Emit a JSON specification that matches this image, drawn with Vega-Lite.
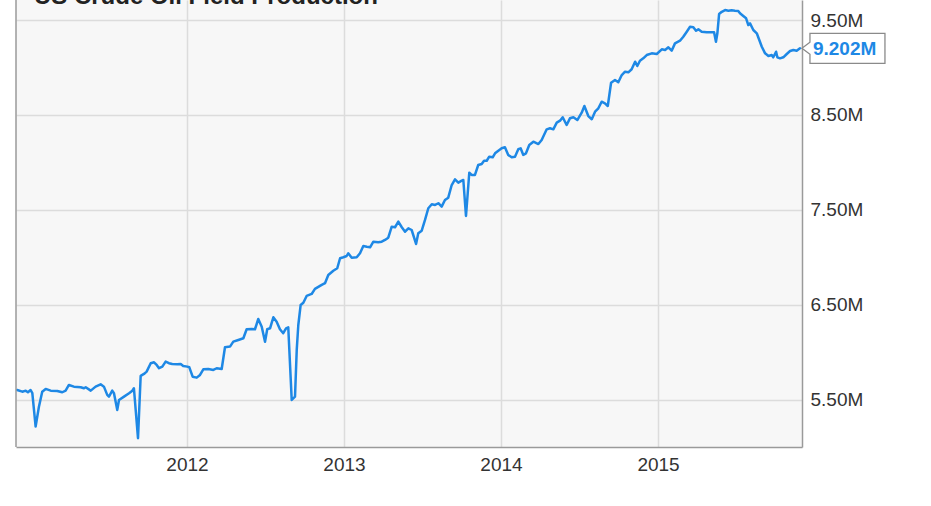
{
  "$schema": "https://vega.github.io/schema/vega-lite/v6.json",
  "autosize": {"type": "none"},
  "width": 786,
  "height": 447,
  "padding": {"left": 16, "top": 0, "right": 129, "bottom": 59},
  "background": "#ffffff",
  "config": {
    "view": {"stroke": null, "fill": "#f7f7f7"},
    "font": "Liberation Sans"
  },
  "datasets": {
    "production": [
      {"year": 2010.919, "value": 5.601}, {"year": 2010.951, "value": 5.583}, {"year": 2010.973, "value": 5.594}, {"year": 2010.987, "value": 5.577},
      {"year": 2011.004, "value": 5.601}, {"year": 2011.015, "value": 5.567}, {"year": 2011.036, "value": 5.215}, {"year": 2011.057, "value": 5.425},
      {"year": 2011.078, "value": 5.583}, {"year": 2011.100, "value": 5.612}, {"year": 2011.132, "value": 5.594}, {"year": 2011.174, "value": 5.591},
      {"year": 2011.206, "value": 5.577}, {"year": 2011.227, "value": 5.594}, {"year": 2011.248, "value": 5.654}, {"year": 2011.280, "value": 5.636},
      {"year": 2011.323, "value": 5.630}, {"year": 2011.344, "value": 5.619}, {"year": 2011.355, "value": 5.630}, {"year": 2011.387, "value": 5.594},
      {"year": 2011.418, "value": 5.636}, {"year": 2011.450, "value": 5.661}, {"year": 2011.471, "value": 5.636}, {"year": 2011.492, "value": 5.549},
      {"year": 2011.503, "value": 5.531}, {"year": 2011.524, "value": 5.594}, {"year": 2011.535, "value": 5.567}, {"year": 2011.556, "value": 5.391},
      {"year": 2011.567, "value": 5.496}, {"year": 2011.599, "value": 5.531}, {"year": 2011.631, "value": 5.567}, {"year": 2011.652, "value": 5.594},
      {"year": 2011.662, "value": 5.619}, {"year": 2011.688, "value": 5.092}, {"year": 2011.705, "value": 5.749}, {"year": 2011.726, "value": 5.770},
      {"year": 2011.743, "value": 5.794}, {"year": 2011.769, "value": 5.883}, {"year": 2011.790, "value": 5.893}, {"year": 2011.807, "value": 5.865},
      {"year": 2011.822, "value": 5.830}, {"year": 2011.843, "value": 5.847}, {"year": 2011.864, "value": 5.900}, {"year": 2011.885, "value": 5.883},
      {"year": 2011.906, "value": 5.875}, {"year": 2011.938, "value": 5.872}, {"year": 2011.960, "value": 5.875}, {"year": 2011.976, "value": 5.854},
      {"year": 2012.002, "value": 5.847}, {"year": 2012.015, "value": 5.840}, {"year": 2012.036, "value": 5.741}, {"year": 2012.062, "value": 5.731},
      {"year": 2012.083, "value": 5.759}, {"year": 2012.104, "value": 5.819}, {"year": 2012.136, "value": 5.822}, {"year": 2012.168, "value": 5.812},
      {"year": 2012.189, "value": 5.830}, {"year": 2012.221, "value": 5.822}, {"year": 2012.242, "value": 6.051}, {"year": 2012.274, "value": 6.058},
      {"year": 2012.295, "value": 6.110}, {"year": 2012.327, "value": 6.128}, {"year": 2012.359, "value": 6.146}, {"year": 2012.380, "value": 6.241},
      {"year": 2012.412, "value": 6.244}, {"year": 2012.433, "value": 6.241}, {"year": 2012.454, "value": 6.349}, {"year": 2012.476, "value": 6.268},
      {"year": 2012.497, "value": 6.110}, {"year": 2012.511, "value": 6.241}, {"year": 2012.529, "value": 6.251}, {"year": 2012.550, "value": 6.367},
      {"year": 2012.571, "value": 6.321}, {"year": 2012.592, "value": 6.241}, {"year": 2012.613, "value": 6.199}, {"year": 2012.631, "value": 6.251},
      {"year": 2012.645, "value": 6.262}, {"year": 2012.667, "value": 5.496}, {"year": 2012.688, "value": 5.531}, {"year": 2012.699, "value": 6.023},
      {"year": 2012.709, "value": 6.286}, {"year": 2012.724, "value": 6.497}, {"year": 2012.741, "value": 6.521}, {"year": 2012.762, "value": 6.592},
      {"year": 2012.794, "value": 6.613}, {"year": 2012.815, "value": 6.666}, {"year": 2012.858, "value": 6.708}, {"year": 2012.879, "value": 6.726},
      {"year": 2012.900, "value": 6.813}, {"year": 2012.932, "value": 6.858}, {"year": 2012.957, "value": 6.884}, {"year": 2012.975, "value": 6.989},
      {"year": 2012.996, "value": 7.000}, {"year": 2013.017, "value": 7.013}, {"year": 2013.027, "value": 7.042}, {"year": 2013.049, "value": 6.995},
      {"year": 2013.081, "value": 7.000}, {"year": 2013.102, "value": 7.042}, {"year": 2013.123, "value": 7.119}, {"year": 2013.145, "value": 7.111},
      {"year": 2013.166, "value": 7.105}, {"year": 2013.187, "value": 7.164}, {"year": 2013.218, "value": 7.158}, {"year": 2013.240, "value": 7.164},
      {"year": 2013.261, "value": 7.182}, {"year": 2013.282, "value": 7.206}, {"year": 2013.304, "value": 7.322}, {"year": 2013.325, "value": 7.316},
      {"year": 2013.346, "value": 7.375}, {"year": 2013.368, "value": 7.316}, {"year": 2013.389, "value": 7.269}, {"year": 2013.410, "value": 7.305},
      {"year": 2013.431, "value": 7.287}, {"year": 2013.459, "value": 7.140}, {"year": 2013.473, "value": 7.252}, {"year": 2013.495, "value": 7.280},
      {"year": 2013.516, "value": 7.393}, {"year": 2013.537, "value": 7.516}, {"year": 2013.559, "value": 7.558}, {"year": 2013.580, "value": 7.551},
      {"year": 2013.601, "value": 7.569}, {"year": 2013.622, "value": 7.533}, {"year": 2013.643, "value": 7.603}, {"year": 2013.664, "value": 7.628},
      {"year": 2013.686, "value": 7.761}, {"year": 2013.707, "value": 7.821}, {"year": 2013.728, "value": 7.786}, {"year": 2013.750, "value": 7.807},
      {"year": 2013.760, "value": 7.814}, {"year": 2013.777, "value": 7.435}, {"year": 2013.788, "value": 7.674}, {"year": 2013.798, "value": 7.891},
      {"year": 2013.813, "value": 7.867}, {"year": 2013.834, "value": 7.867}, {"year": 2013.855, "value": 7.972}, {"year": 2013.877, "value": 7.983},
      {"year": 2013.892, "value": 8.017}, {"year": 2013.909, "value": 8.017}, {"year": 2013.925, "value": 8.060}, {"year": 2013.947, "value": 8.053},
      {"year": 2013.962, "value": 8.095}, {"year": 2013.983, "value": 8.123}, {"year": 2014.004, "value": 8.148}, {"year": 2014.025, "value": 8.159},
      {"year": 2014.046, "value": 8.078}, {"year": 2014.068, "value": 8.053}, {"year": 2014.089, "value": 8.060}, {"year": 2014.110, "value": 8.138},
      {"year": 2014.125, "value": 8.148}, {"year": 2014.142, "value": 8.078}, {"year": 2014.159, "value": 8.095}, {"year": 2014.180, "value": 8.183},
      {"year": 2014.206, "value": 8.218}, {"year": 2014.238, "value": 8.193}, {"year": 2014.259, "value": 8.236}, {"year": 2014.291, "value": 8.348},
      {"year": 2014.312, "value": 8.359}, {"year": 2014.333, "value": 8.348}, {"year": 2014.355, "value": 8.418}, {"year": 2014.376, "value": 8.439},
      {"year": 2014.393, "value": 8.475}, {"year": 2014.418, "value": 8.394}, {"year": 2014.439, "value": 8.464}, {"year": 2014.461, "value": 8.475},
      {"year": 2014.486, "value": 8.446}, {"year": 2014.514, "value": 8.523}, {"year": 2014.531, "value": 8.594}, {"year": 2014.556, "value": 8.488},
      {"year": 2014.578, "value": 8.454}, {"year": 2014.599, "value": 8.534}, {"year": 2014.620, "value": 8.570}, {"year": 2014.641, "value": 8.639},
      {"year": 2014.662, "value": 8.622}, {"year": 2014.680, "value": 8.594}, {"year": 2014.701, "value": 8.839}, {"year": 2014.726, "value": 8.868},
      {"year": 2014.747, "value": 8.844}, {"year": 2014.769, "value": 8.920}, {"year": 2014.790, "value": 8.955}, {"year": 2014.811, "value": 8.949},
      {"year": 2014.832, "value": 8.981}, {"year": 2014.854, "value": 9.061}, {"year": 2014.868, "value": 9.015}, {"year": 2014.885, "value": 9.071},
      {"year": 2014.906, "value": 9.096}, {"year": 2014.928, "value": 9.131}, {"year": 2014.960, "value": 9.149}, {"year": 2014.992, "value": 9.142},
      {"year": 2015.024, "value": 9.191}, {"year": 2015.045, "value": 9.184}, {"year": 2015.066, "value": 9.212}, {"year": 2015.087, "value": 9.177},
      {"year": 2015.108, "value": 9.254}, {"year": 2015.140, "value": 9.282}, {"year": 2015.161, "value": 9.324}, {"year": 2015.183, "value": 9.377},
      {"year": 2015.204, "value": 9.429}, {"year": 2015.225, "value": 9.423}, {"year": 2015.242, "value": 9.387}, {"year": 2015.257, "value": 9.402},
      {"year": 2015.278, "value": 9.377}, {"year": 2015.310, "value": 9.370}, {"year": 2015.342, "value": 9.370}, {"year": 2015.357, "value": 9.370},
      {"year": 2015.369, "value": 9.271}, {"year": 2015.378, "value": 9.360}, {"year": 2015.389, "value": 9.563}, {"year": 2015.406, "value": 9.587},
      {"year": 2015.427, "value": 9.605}, {"year": 2015.448, "value": 9.598}, {"year": 2015.469, "value": 9.602}, {"year": 2015.490, "value": 9.598},
      {"year": 2015.511, "value": 9.595}, {"year": 2015.522, "value": 9.571}, {"year": 2015.543, "value": 9.542}, {"year": 2015.561, "value": 9.518},
      {"year": 2015.575, "value": 9.447}, {"year": 2015.586, "value": 9.465}, {"year": 2015.607, "value": 9.395}, {"year": 2015.629, "value": 9.360},
      {"year": 2015.645, "value": 9.289}, {"year": 2015.661, "value": 9.219}, {"year": 2015.682, "value": 9.149}, {"year": 2015.703, "value": 9.121},
      {"year": 2015.724, "value": 9.131}, {"year": 2015.734, "value": 9.107}, {"year": 2015.752, "value": 9.166}, {"year": 2015.760, "value": 9.107},
      {"year": 2015.777, "value": 9.096}, {"year": 2015.798, "value": 9.107}, {"year": 2015.820, "value": 9.142}, {"year": 2015.841, "value": 9.173},
      {"year": 2015.862, "value": 9.184}, {"year": 2015.883, "value": 9.177}, {"year": 2015.904, "value": 9.202}
    ],
    "latest": [
      {"year": 2015.904, "value": 9.202, "label": "9.202M"}
    ],
    "heading": [
      {"label": "US Crude Oil Field Production"}
    ]
  },
  "layer": [
    {
      "data": {"name": "production"},
      "mark": {"type": "line", "color": "#1e88e5", "strokeWidth": 2.5, "strokeJoin": "round", "strokeCap": "round"},
      "encoding": {
        "x": {
          "field": "year", "type": "quantitative",
          "scale": {"domain": [2010.911, 2015.917], "nice": false, "zero": false},
          "axis": {
            "title": null, "values": [2012, 2013, 2014, 2015], "format": "d",
            "grid": true, "gridColor": "#dcdcdc", "gridWidth": 1.5,
            "ticks": false, "domain": true, "domainColor": "#9a9a9a", "domainWidth": 1.5,
            "labelFontSize": 19, "labelColor": "#333333", "labelFont": "Liberation Sans", "labelPadding": 8,
            "labelFlush": false
          }
        },
        "y": {
          "field": "value", "type": "quantitative",
          "scale": {"domain": [5.0, 9.711], "nice": false, "zero": false},
          "axis": {
            "title": null, "orient": "right", "values": [5.5, 6.5, 7.5, 8.5, 9.5],
            "labelExpr": "format(datum.value, '.2f') + 'M'",
            "grid": true, "gridColor": "#dcdcdc", "gridWidth": 1.5,
            "ticks": false, "domain": true, "domainColor": "#9a9a9a", "domainWidth": 1.5,
            "labelFontSize": 19, "labelColor": "#333333", "labelFont": "Liberation Sans", "labelPadding": 8,
            "labelFlush": false
          }
        }
      }
    },
    {
      "data": {"name": "latest"},
      "mark": {"type": "rule", "color": "#9a9a9a", "strokeWidth": 1.5},
      "encoding": {"x": {"datum": 2010.911, "type": "quantitative"}}
    },
    {
      "data": {"name": "heading"},
      "mark": {"type": "text", "align": "left", "baseline": "alphabetic", "fontSize": 24, "fontWeight": "bold", "font": "Liberation Sans", "color": "#222222"},
      "encoding": {
        "x": {"datum": 2011.025, "type": "quantitative"},
        "y": {"datum": 9.669, "type": "quantitative"},
        "text": {"field": "label", "type": "nominal"}
      }
    },
    {
      "data": {"name": "latest"},
      "mark": {
        "type": "point", "filled": true, "fill": "#ffffff", "stroke": "#8a8a8a", "strokeWidth": 1.3,
        "opacity": 1, "size": 4, "xOffset": 2,
        "shape": "M0,0 L8,-6 L8,-15 L83,-15 L83,15 L8,15 L8,6 Z"
      },
      "encoding": {
        "x": {"field": "year", "type": "quantitative"},
        "y": {"field": "value", "type": "quantitative"}
      }
    },
    {
      "data": {"name": "latest"},
      "mark": {"type": "text", "align": "left", "baseline": "middle", "dx": 13, "dy": 1, "fontSize": 19, "fontWeight": "bold", "font": "Liberation Sans", "color": "#1e88e5"},
      "encoding": {
        "x": {"field": "year", "type": "quantitative"},
        "y": {"field": "value", "type": "quantitative"},
        "text": {"field": "label", "type": "nominal"}
      }
    }
  ]
}
